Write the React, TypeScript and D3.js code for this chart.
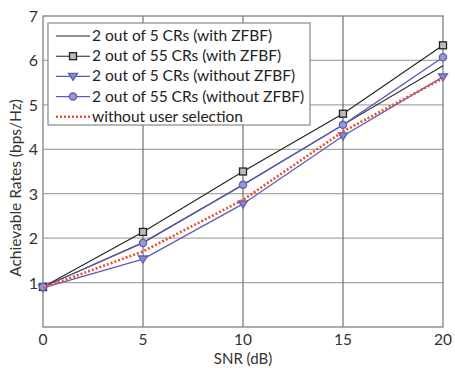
import React, { useEffect, useRef } from 'react';
import * as d3 from 'd3';

const snr = [0, 5, 10, 15, 20];
const with5 = [0.9, 1.9, 3.2, 4.55, 5.88];
const with55 = [0.9, 2.14, 3.5, 4.8, 6.34];
const without5 = [0.88, 1.53, 2.77, 4.3, 5.63];
const without55 = [0.9, 1.89, 3.2, 4.55, 6.07];
const noSelection = [0.88, 1.7, 2.86, 4.4, 5.6];

const seriesNames = [
  '2 out of 5 CRs (with ZFBF)',
  '2 out of 55 CRs (with ZFBF)',
  '2 out of 5 CRs (without ZFBF)',
  '2 out of 55 CRs (without ZFBF)',
  'without user selection',
];
const xTicks = [0, 5, 10, 15, 20];
const yTicks = [1, 2, 3, 4, 5, 6, 7];

const App: React.FC = () => {
  const svgRef = useRef<SVGSVGElement>(null);

  useEffect(() => {
    if (!svgRef.current) return;
    const svg = d3.select(svgRef.current);
    svg.selectAll('*').remove();

    const font = 'Lato, "Open Sans", sans-serif';
    const x = d3.scaleLinear().domain([0, 20]).range([43, 443]);
    const y = d3.scaleLinear().domain([0, 7]).range([327, 16]);

    // grid
    svg.append('g').selectAll('line').data(yTicks.slice(0, -1)).enter().append('line')
      .attr('x1', x(0)).attr('x2', x(20))
      .attr('y1', d => y(d)).attr('y2', d => y(d))
      .style('stroke', '#a8a8a8').style('stroke-width', 1.2);
    svg.append('g').selectAll('line').data(xTicks.slice(1, -1)).enter().append('line')
      .attr('x1', d => x(d)).attr('x2', d => x(d))
      .attr('y1', y(0)).attr('y2', y(7))
      .style('stroke', '#707070').style('stroke-width', 1.2);

    // frame
    svg.append('rect')
      .attr('x', x(0)).attr('y', y(7))
      .attr('width', x(20) - x(0)).attr('height', y(0) - y(7))
      .style('fill', 'none').style('stroke', '#808080').style('stroke-width', 1.3);

    // tick labels
    svg.append('g').selectAll('text').data(xTicks).enter().append('text')
      .attr('x', d => x(d)).attr('y', 345)
      .attr('text-anchor', 'middle')
      .style('font-family', font).style('font-size', '15.5px').style('fill', '#333')
      .text(d => d);
    svg.append('g').selectAll('text').data(yTicks).enter().append('text')
      .attr('x', 38).attr('y', d => y(d) + 6)
      .attr('text-anchor', 'end')
      .style('font-family', font).style('font-size', '16px').style('fill', '#333')
      .text(d => d);

    // axis titles
    svg.append('text')
      .attr('x', 243).attr('y', 364)
      .attr('text-anchor', 'middle')
      .style('font-family', font).style('font-size', '15px').style('fill', '#333')
      .text('SNR (dB)');
    svg.append('text')
      .attr('transform', 'translate(21,188) rotate(-90)')
      .attr('text-anchor', 'middle')
      .style('font-family', font).style('font-size', '15.5px').style('fill', '#333')
      .text('Achievable Rates (bps/Hz)');

    const line = d3.line<number>()
      .x((d, i) => x(snr[i]))
      .y(d => y(d));

    const purple = '#5c5cb4';
    const styles = [
      { data: with5, color: '#222', marker: 'none', dash: null, width: 1.1 },
      { data: with55, color: '#222', marker: 'square', dash: null, width: 1.1 },
      { data: without5, color: purple, marker: 'triangle', dash: null, width: 1.3 },
      { data: without55, color: purple, marker: 'circle', dash: null, width: 1.3 },
      { data: noSelection, color: '#e8512c', marker: 'none', dash: '2,2', width: 2.6 },
    ];

    const drawMarker = (g: d3.Selection<SVGGElement, unknown, null, undefined>, kind: string, cx: number, cy: number, color: string) => {
      if (kind === 'square') {
        g.append('rect').attr('x', cx - 3.5).attr('y', cy - 3.5).attr('width', 7).attr('height', 7)
          .style('fill', '#bbb').style('stroke', color).style('stroke-width', 1.3);
      } else if (kind === 'triangle') {
        g.append('path').attr('d', `M${cx - 4.5},${cy - 3} L${cx + 4.5},${cy - 3} L${cx},${cy + 4} Z`)
          .style('fill', '#8888cc').style('stroke', color).style('stroke-width', 1.3);
      } else if (kind === 'circle') {
        g.append('circle').attr('cx', cx).attr('cy', cy).attr('r', 3.6)
          .style('fill', '#9a9ad0').style('stroke', color).style('stroke-width', 1.3);
      }
    };

    styles.forEach(s => {
      const g = svg.append('g');
      g.append('path').datum(s.data).attr('d', line)
        .style('fill', 'none').style('stroke', s.color).style('stroke-width', s.width)
        .style('stroke-dasharray', s.dash);
      s.data.forEach((v, i) => drawMarker(g, s.marker, x(snr[i]), y(v), s.color));
    });

    // legend
    const lg = svg.append('g');
    lg.append('rect').attr('x', 48).attr('y', 23).attr('width', 262).attr('height', 102)
      .style('fill', '#fff').style('stroke', '#888').style('stroke-width', 1.2);
    styles.forEach((s, i) => {
      const ry = 36 + i * 20.2;
      const row = lg.append('g');
      row.append('line').attr('x1', 56).attr('x2', 90).attr('y1', ry).attr('y2', ry)
        .style('stroke', s.color).style('stroke-width', s.width).style('stroke-dasharray', s.dash);
      drawMarker(row, s.marker, 73, ry, s.color);
      row.append('text').attr('x', 92).attr('y', ry + 5)
        .style('font-family', font).style('font-size', '15.5px').style('fill', '#222')
        .text(seriesNames[i]);
    });
  }, []);

  return (
    <div style={{ position: 'absolute', left: 0, top: 0, width: 455, height: 368, background: '#fff' }}>
      <svg ref={svgRef} width={455} height={368} />
    </div>
  );
};

export default App;
